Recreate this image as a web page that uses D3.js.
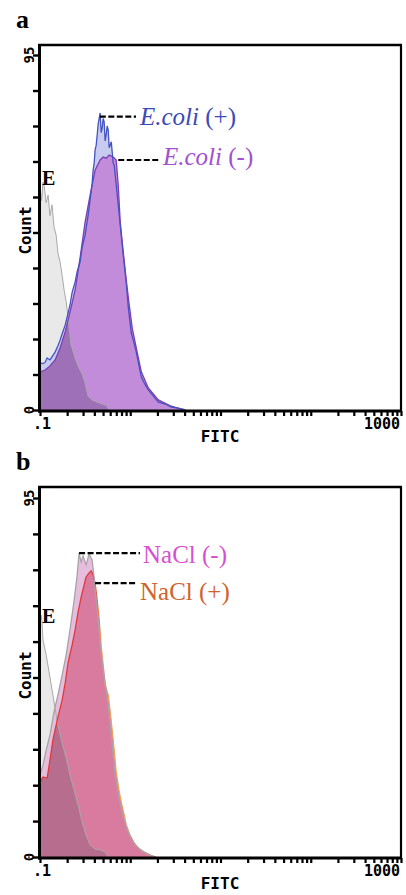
<!DOCTYPE html>
<html><head><meta charset="utf-8">
<script src="https://cdn.jsdelivr.net/npm/d3@7"></script>
<style>html,body{margin:0;padding:0;background:#fff}svg{display:block}</style>
</head><body>
<svg id="chart" width="406" height="895"></svg>
<script>
// FITC intensity histograms (event count), two stacked panels
const xDomain = [0.1, 1000];
const yDomain = [0, 95];
const yTickValues = [0, 9.5, 19, 28.5, 38, 47.5, 57, 66.5, 76, 85.5, 95];
const xTickLabels = [".1", "1000"];
const yTickLabels = ["0", "95"];
const panelLetters = ["a", "b"];

// panel a  — [FITC, count]
const ecoliPos = [[0.100,12.6],[0.108,12.4],[0.114,12.8],[0.120,13.9],[0.129,13.4],[0.139,14.6],[0.147,15.5],[0.158,17.2],[0.167,18.7],[0.176,20.4],[0.190,22.7],[0.205,26.0],[0.215,28.1],[0.227,31.5],[0.245,34.3],[0.258,37.0],[0.278,39.6],[0.293,43.5],[0.316,46.8],[0.341,52.0],[0.359,56.2],[0.378,60.5],[0.388,64.2],[0.398,66.0],[0.408,69.6],[0.419,70.8],[0.430,73.6],[0.441,76.5],[0.453,78.1],[0.464,79.5],[0.476,74.2],[0.489,75.5],[0.501,78.0],[0.514,77.1],[0.527,72.0],[0.541,73.6],[0.555,76.0],[0.570,74.9],[0.584,70.2],[0.600,70.9],[0.616,71.8],[0.631,69.0],[0.647,66.0],[0.664,65.6],[0.699,60.2],[0.736,54.9],[0.774,49.5],[0.836,41.5],[0.903,34.0],[0.950,27.6],[1.026,20.6],[1.080,18.7],[1.166,15.5],[1.326,8.8],[1.468,6.7],[1.585,5.4],[1.801,3.7],[2.047,2.1],[2.448,1.6],[2.855,0.8],[3.415,0.5],[4.084,0]];
const ecoliNeg = [[0.100,10.2],[0.114,10.7],[0.129,11.8],[0.147,13.4],[0.167,16.6],[0.190,20.9],[0.215,26.2],[0.245,32.1],[0.278,40.7],[0.316,50.3],[0.359,57.5],[0.408,64.2],[0.464,66.9],[0.501,67.7],[0.541,67.4],[0.584,68.2],[0.647,67.7],[0.699,66.9],[0.736,60.2],[0.774,50.3],[0.836,42.3],[0.903,34.8],[0.975,28.1],[1.052,21.9],[1.166,16.6],[1.326,10.2],[1.585,5.9],[2.047,2.7],[2.783,1.1],[3.594,0.3],[4.084,0]];
const emptyA = [[0.100,59.7],[0.104,56.0],[0.108,61.0],[0.111,60.2],[0.117,55.5],[0.123,57.5],[0.129,52.0],[0.136,54.9],[0.143,49.0],[0.151,46.8],[0.158,42.0],[0.167,39.6],[0.176,36.0],[0.185,32.1],[0.195,29.0],[0.205,24.6],[0.221,17.4],[0.245,13.9],[0.264,11.8],[0.293,9.6],[0.316,7.2],[0.341,3.7],[0.378,2.7],[0.430,2.1],[0.489,1.6],[0.541,1.3],[0.584,0]];

// panel b
const naclNeg = [[0.100,21.7],[0.108,24.3],[0.117,28.3],[0.129,32.3],[0.143,38.4],[0.158,42.9],[0.176,48.2],[0.195,53.5],[0.215,60.1],[0.239,68.0],[0.258,74.6],[0.271,80.4],[0.286,78.1],[0.300,79.7],[0.324,77.3],[0.350,80.2],[0.378,78.6],[0.398,73.8],[0.419,68.0],[0.441,62.7],[0.464,56.1],[0.501,50.0],[0.541,44.2],[0.584,37.6],[0.631,29.6],[0.681,21.7],[0.736,16.4],[0.794,13.0],[0.858,9.8],[0.950,6.6],[1.080,4.0],[1.227,2.4],[1.431,1.3],[1.668,0.5],[1.896,0]];
const naclPos = [[0.100,19.8],[0.108,21.2],[0.120,20.9],[0.129,25.7],[0.139,31.0],[0.158,37.0],[0.176,41.5],[0.190,46.0],[0.205,51.6],[0.227,56.1],[0.245,60.1],[0.264,64.8],[0.286,68.8],[0.308,72.0],[0.324,74.1],[0.350,75.2],[0.369,75.7],[0.388,74.6],[0.408,72.5],[0.430,68.0],[0.453,62.7],[0.476,56.1],[0.501,50.8],[0.527,45.5],[0.570,42.9],[0.600,38.4],[0.647,31.0],[0.699,22.5],[0.755,17.2],[0.794,14.6],[0.858,11.1],[0.903,8.5],[1.000,5.6],[1.136,3.2],[1.292,1.9],[1.468,1.1],[1.668,0.5],[1.945,0]];
const emptyB = [[0.100,61.4],[0.104,64.0],[0.108,57.4],[0.117,53.5],[0.126,49.0],[0.136,44.2],[0.147,39.4],[0.158,34.9],[0.176,30.2],[0.195,26.2],[0.215,21.7],[0.239,17.7],[0.264,13.8],[0.293,9.3],[0.324,5.8],[0.359,3.2],[0.408,2.1],[0.464,1.9],[0.527,1.3],[0.570,0]];

const svg = d3.select("#chart");
const monoFont = "'DejaVu Sans Mono', monospace";
const serifFont = "'Liberation Serif', 'Times New Roman', serif";

const panels = [
  {
    id: "a", letter: panelLetters[0], top: 45, zero: 410, full: 55,
    empty: emptyA,
    back:  {data: ecoliPos, fill: "#c7cbef", stroke: "#4453c0"},
    front: {data: ecoliNeg, fill: "#c28cdb", stroke: "#7d3db4"},
    overlap: "#9e70b8",
    labels: [
      {text: ["E.coli", " (+)"], color: "#3c49b8", peak: [0.460, 78.5], lineEnd: 136, tx: 140, ty: 125},
      {text: ["E.coli", " (-)"], color: "#a24fd2", peak: [0.736, 66.9], lineEnd: 160, tx: 163, ty: 165}
    ]
  },
  {
    id: "b", letter: panelLetters[1], top: 487, zero: 857, full: 498,
    empty: emptyB,
    back:  {data: naclNeg, fill: "#e6bddc", stroke: "#a9a3a8"},
    front: {data: naclPos, fill: "#d97b9f", stroke: "url(#naclStroke)"},
    overlap: "#b76d8d",
    labels: [
      {text: ["NaCl", " (-)"], color: "#d64fd2", italic: false, peak: [0.271, 80.4], lineEnd: 140, tx: 143, ty: 563},
      {text: ["NaCl", " (+)"], color: "#d0632c", italic: false, peak: [0.408, 72.5], lineEnd: 137, tx: 140, ty: 600}
    ]
  }
];

const left = 40, right = 401;
const x = d3.scaleLog().domain(xDomain).range([left, right]);

const defs = svg.append("defs");
const grad = defs.append("linearGradient").attr("id", "naclStroke")
  .attr("gradientUnits", "userSpaceOnUse").attr("x1", left).attr("x2", right).attr("y1", 0).attr("y2", 0);
grad.append("stop").attr("offset", 0).attr("stop-color", "#e0393c");
grad.append("stop").attr("offset", 0.15).attr("stop-color", "#e0393c");
grad.append("stop").attr("offset", 0.17).attr("stop-color", "#f0a05e");
grad.append("stop").attr("offset", 1).attr("stop-color", "#f0a05e");

panels.forEach(p => {
  const y = d3.scaleLinear().domain(yDomain).range([p.zero, p.full]);
  const g = svg.append("g");

  defs.append("clipPath").attr("id", "plot-" + p.id)
    .append("rect").attr("x", left).attr("y", p.top).attr("width", right - left).attr("height", p.zero - p.top);

  const area = d3.area().x(d => x(d[0])).y0(y(0)).y1(d => y(d[1]));
  const line = d3.line().x(d => x(d[0])).y(d => y(d[1]));

  defs.append("clipPath").attr("id", "front-" + p.id)
    .append("path").attr("d", area(p.front.data));

  const plot = g.append("g").attr("clip-path", `url(#plot-${p.id})`);

  // empty control underneath
  plot.append("path").attr("d", area(p.empty)).attr("fill", "#e9e9e9");
  // sample histograms
  plot.append("path").attr("d", area(p.back.data)).attr("fill", p.back.fill);
  plot.append("path").attr("d", area(p.front.data)).attr("fill", p.front.fill);
  // control overlapping the front sample
  plot.append("g").attr("clip-path", `url(#front-${p.id})`)
    .append("path").attr("d", area(p.empty)).attr("fill", p.overlap);
  // outlines
  plot.append("path").attr("d", line(p.empty)).attr("fill", "none").attr("stroke", "#a9a9a9").attr("stroke-width", 1);
  plot.append("path").attr("d", line(p.front.data)).attr("fill", "none").attr("stroke", p.front.stroke).attr("stroke-width", 1.3);
  plot.append("path").attr("d", line(p.back.data)).attr("fill", "none").attr("stroke", p.back.stroke).attr("stroke-width", 1.3);

  // axes
  const xAxis = d3.axisBottom(x).tickValues(x.ticks()).tickSize(5).tickFormat("");
  const gx = g.append("g").attr("transform", `translate(0,${p.zero + 1})`).call(xAxis);
  gx.select(".domain").remove();
  gx.selectAll(".tick line").attr("stroke", "#000").attr("stroke-width", 2.2);

  const yAxis = d3.axisLeft(y).tickValues(yTickValues).tickSize(6).tickFormat("");
  const gy = g.append("g").attr("transform", `translate(${left - 1},0)`).call(yAxis);
  gy.select(".domain").remove();
  gy.selectAll(".tick line").attr("stroke", "#000").attr("stroke-width", 2.4);

  // frame
  g.append("line").attr("x1", left - 0.5).attr("x2", left - 0.5).attr("y1", p.top).attr("y2", p.zero + 2.5).attr("stroke", "#000").attr("stroke-width", 3);
  g.append("line").attr("x1", left - 2).attr("x2", right + 1).attr("y1", p.zero + 1).attr("y2", p.zero + 1).attr("stroke", "#000").attr("stroke-width", 3);
  g.append("line").attr("x1", left - 2).attr("x2", right + 1).attr("y1", p.top).attr("y2", p.top).attr("stroke", "#000").attr("stroke-width", 2.5);
  g.append("line").attr("x1", right).attr("x2", right).attr("y1", p.top).attr("y2", p.zero + 1).attr("stroke", "#000").attr("stroke-width", 2.2);

  // tick labels
  g.append("text").attr("x", x(xDomain[0]) + 2).attr("y", p.zero + 19).attr("text-anchor", "middle")
    .attr("font-family", monoFont).attr("font-weight", "bold").attr("font-size", 15).text(xTickLabels[0]);
  g.append("text").attr("x", right - 1).attr("y", p.zero + 19).attr("text-anchor", "end")
    .attr("font-family", monoFont).attr("font-weight", "bold").attr("font-size", 15).text(xTickLabels[1]);
  g.append("text").attr("x", 220).attr("y", p.zero + 32).attr("text-anchor", "middle")
    .attr("font-family", monoFont).attr("font-weight", "bold").attr("font-size", 16).text("FITC");

  [[yDomain[0], yTickLabels[0]], [yDomain[1], yTickLabels[1]]].forEach(([v, t]) => {
    g.append("text").attr("transform", `translate(34,${y(v)}) rotate(-90)`).attr("text-anchor", "middle")
      .attr("font-family", monoFont).attr("font-weight", "bold").attr("font-size", 14).text(t);
  });
  g.append("text").attr("transform", `translate(31,${(p.zero + p.full) / 2 - 2}) rotate(-90)`).attr("text-anchor", "middle")
    .attr("font-family", monoFont).attr("font-weight", "bold").attr("font-size", 16).text("Count");

  // panel letter
  g.append("text").attr("x", 16).attr("y", p.top - 17).attr("font-family", serifFont).attr("font-weight", "bold")
    .attr("font-size", 26).text(p.letter);

  // control label
  g.append("text").attr("x", 42).attr("y", y(p.empty[0][1]) - 2).attr("font-family", serifFont).attr("font-weight", "bold")
    .attr("font-size", 20).text("E");

  // callouts
  p.labels.forEach(l => {
    const px = x(l.peak[0]), py = y(l.peak[1]);
    g.append("line").attr("x1", px).attr("x2", l.lineEnd).attr("y1", py).attr("y2", py)
      .attr("stroke", "#000").attr("stroke-width", 2.2).attr("stroke-dasharray", "6,2.5");
    const t = g.append("text").attr("x", l.tx).attr("y", l.ty).attr("font-family", serifFont)
      .attr("font-size", 25).attr("fill", l.color);
    t.append("tspan").attr("font-style", l.italic === false ? "normal" : "italic").text(l.text[0]);
    t.append("tspan").text(l.text[1]);
  });
});
</script>
</body></html>
